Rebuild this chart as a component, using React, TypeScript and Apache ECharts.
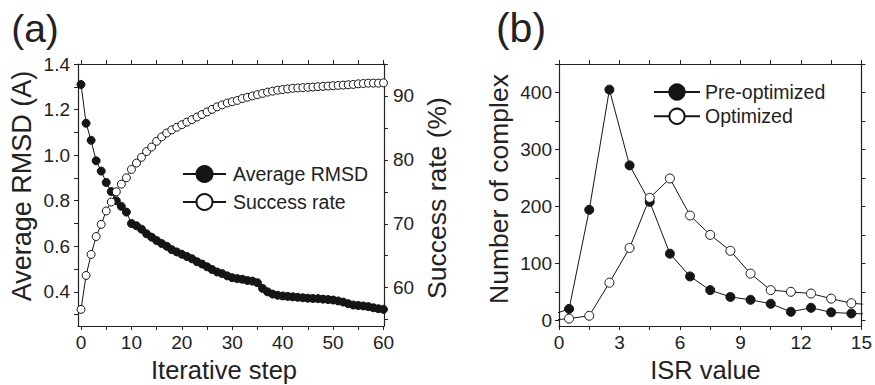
import React, { useEffect, useRef } from 'react';
import * as echarts from 'echarts';

// ---------- Panel (a) data ----------
const steps = [
  0, 1, 2, 3, 4, 5, 6, 7, 8, 9, 10, 11, 12, 13, 14, 15, 16, 17, 18, 19, 20,
  21, 22, 23, 24, 25, 26, 27, 28, 29, 30, 31, 32, 33, 34, 35, 36, 37, 38, 39, 40,
  41, 42, 43, 44, 45, 46, 47, 48, 49, 50, 51, 52, 53, 54, 55, 56, 57, 58, 59, 60,
];
const avgRmsd = [
  1.31, 1.14, 1.065, 0.975, 0.93, 0.88, 0.84, 0.80, 0.775, 0.75, 0.70,
  0.69, 0.675, 0.655, 0.64, 0.625, 0.612, 0.60, 0.585, 0.575, 0.565,
  0.555, 0.545, 0.532, 0.522, 0.51, 0.498, 0.487, 0.48, 0.47, 0.462,
  0.458, 0.455, 0.45, 0.447, 0.44, 0.415, 0.40, 0.39, 0.385, 0.382,
  0.38, 0.378, 0.376, 0.374, 0.372, 0.371, 0.37, 0.368, 0.366, 0.364,
  0.36, 0.355, 0.348, 0.342, 0.34, 0.338, 0.335, 0.33, 0.326, 0.323,
];
const successRate = [
  56.6, 61.9, 65.2, 68.0, 69.9, 72.0, 73.4, 75.0, 76.2, 77.2, 78.5,
  79.5, 80.4, 81.3, 82.0, 82.9, 83.6, 84.2, 84.7, 85.1, 85.5,
  85.9, 86.3, 86.7, 87.1, 87.5, 87.9, 88.3, 88.6, 88.9, 89.1,
  89.3, 89.6, 89.8, 90.0, 90.2, 90.4, 90.6, 90.75, 90.9, 91.0,
  91.1, 91.2, 91.25, 91.3, 91.35, 91.4, 91.45, 91.5, 91.55, 91.6,
  91.65, 91.7, 91.75, 91.8, 91.9, 91.95, 92.0, 92.0, 92.0, 92.05,
];
const stepLabels = [0, 10, 20, 30, 40, 50, 60];
const stepTicks = [0, 5, 10, 15, 20, 25, 30, 35, 40, 45, 50, 55, 60];
const rmsdLabels = [0.4, 0.6, 0.8, 1.0, 1.2, 1.4];
const rmsdTicks = [0.3, 0.4, 0.5, 0.6, 0.7, 0.8, 0.9, 1.0, 1.1, 1.2, 1.3, 1.4];
const rateLabels = [60, 70, 80, 90];
const rateTicks = [55, 60, 65, 70, 75, 80, 85, 90, 95];

// ---------- Panel (b) data ----------
const isrBins = [-0.5, 0.5, 1.5, 2.5, 3.5, 4.5, 5.5, 6.5, 7.5, 8.5, 9.5, 10.5, 11.5, 12.5, 13.5, 14.5, 15.5];
const preOptimized = [8, 20, 194, 405, 272, 208, 117, 77, 53, 41, 36, 29, 15, 22, 14, 12, 11];
const optimized = [0, 3, 8, 66, 127, 215, 249, 184, 150, 122, 82, 53, 50, 47, 38, 30, 27];
const isrLabels = [0, 3, 6, 9, 12, 15];
const isrTicks = [0, 1.5, 3, 4.5, 6, 7.5, 9, 10.5, 12, 13.5, 15];
const countLabels = [0, 100, 200, 300, 400];
const countTicks = [0, 50, 100, 150, 200, 250, 300, 350, 400, 450];

const FONT = "'Liberation Sans', Arial, Helvetica, sans-serif";
const INK = '#222';
const LINE = '#151515';

function axisBase(extra: any) {
  return {
    type: 'value',
    axisLine: { show: true, onZero: false, lineStyle: { color: INK, width: 1.2 } },
    splitLine: { show: false },
    ...extra,
  };
}

function tickStyle(values: number[]) {
  return { show: true, customValues: values, length: 4, inside: false, lineStyle: { color: INK, width: 1 } };
}

function labelStyle(values: number[], margin: number, formatter?: any) {
  const o: any = { show: true, customValues: values, fontSize: 19, color: INK, fontFamily: FONT, margin };
  if (formatter) o.formatter = formatter;
  return o;
}

export default function App() {
  const ref = useRef<HTMLDivElement>(null);

  useEffect(() => {
    if (!ref.current) return;
    const chart = echarts.init(ref.current, undefined, { renderer: 'svg' });

    const inRange = (x: number) => x >= 0 && x <= 15;

    const option: any = {
      animation: false,
      backgroundColor: '#fff',
      grid: [
        { left: 78, top: 64, width: 306, height: 262, containLabel: false },
        { left: 559, top: 64, width: 305, height: 262, containLabel: false },
      ],
      xAxis: [
        axisBase({
          gridIndex: 0, position: 'bottom', min: -0.6, max: 60.1,
          axisTick: tickStyle(stepTicks), axisLabel: labelStyle(stepLabels, 7),
        }),
        axisBase({
          gridIndex: 0, position: 'top', min: -0.6, max: 60.1,
          axisTick: tickStyle(stepTicks), axisLabel: { show: false },
        }),
        axisBase({
          gridIndex: 1, position: 'bottom', min: 0, max: 15,
          axisTick: tickStyle(isrTicks), axisLabel: labelStyle(isrLabels, 7),
        }),
        axisBase({
          gridIndex: 1, position: 'top', min: 0, max: 15,
          axisTick: tickStyle(isrTicks), axisLabel: { show: false },
        }),
      ],
      yAxis: [
        axisBase({
          gridIndex: 0, position: 'left', min: 0.25, max: 1.4,
          axisTick: tickStyle(rmsdTicks),
          axisLabel: labelStyle(rmsdLabels, 8, (v: number) => v.toFixed(1)),
        }),
        axisBase({
          gridIndex: 0, position: 'right', min: 54, max: 95,
          axisTick: tickStyle(rateTicks), axisLabel: labelStyle(rateLabels, 9),
        }),
        axisBase({
          gridIndex: 1, position: 'left', min: -10, max: 450,
          axisTick: tickStyle(countTicks), axisLabel: labelStyle(countLabels, 7),
        }),
        axisBase({
          gridIndex: 1, position: 'right', min: -10, max: 450,
          axisTick: tickStyle(countTicks), axisLabel: { show: false },
        }),
      ],
      legend: [
        {
          data: ['Average RMSD', 'Success rate'],
          orient: 'vertical', left: 182, top: 164, padding: 0,
          itemWidth: 43, itemHeight: 20, itemGap: 8, selectedMode: false,
          textStyle: { fontSize: 19.5, color: INK, fontFamily: FONT, padding: [0, 0, 0, 2] },
        },
        {
          data: ['Pre-optimized', 'Optimized'],
          orient: 'vertical', left: 653, top: 82, padding: 0,
          itemWidth: 46, itemHeight: 19, itemGap: 4.3, selectedMode: false,
          textStyle: { fontSize: 19.5, color: INK, fontFamily: FONT },
        },
      ],
      series: [
        {
          name: 'Average RMSD', type: 'line', xAxisIndex: 0, yAxisIndex: 0,
          data: steps.map((s, i) => [s, avgRmsd[i]]),
          symbol: 'circle', symbolSize: 8,
          lineStyle: { color: LINE, width: 1 },
          itemStyle: { color: LINE, borderColor: LINE, borderWidth: 1 },
          emphasis: { disabled: true },
        },
        {
          name: 'Success rate', type: 'line', xAxisIndex: 0, yAxisIndex: 1,
          data: steps.map((s, i) => [s, successRate[i]]),
          symbol: 'circle', symbolSize: 8,
          lineStyle: { color: LINE, width: 1 },
          itemStyle: { color: '#fff', borderColor: LINE, borderWidth: 1 },
          emphasis: { disabled: true },
        },
        {
          name: 'Pre-optimized', type: 'line', xAxisIndex: 2, yAxisIndex: 2, clip: true,
          data: isrBins.map((x, i) => ({ value: [x, preOptimized[i]], symbol: inRange(x) ? 'circle' : 'none' })),
          symbol: 'circle', symbolSize: 9,
          lineStyle: { color: LINE, width: 1 },
          itemStyle: { color: LINE, borderColor: LINE, borderWidth: 1 },
          emphasis: { disabled: true },
        },
        {
          name: 'Optimized', type: 'line', xAxisIndex: 2, yAxisIndex: 2, clip: true,
          data: isrBins.map((x, i) => ({ value: [x, optimized[i]], symbol: inRange(x) ? 'circle' : 'none' })),
          symbol: 'circle', symbolSize: 9,
          lineStyle: { color: LINE, width: 1 },
          itemStyle: { color: '#fff', borderColor: LINE, borderWidth: 1 },
          emphasis: { disabled: true },
        },
      ],
      graphic: [
        { type: 'text', x: 35, y: 28, style: { text: '(a)', fontSize: 39, fontFamily: FONT, fill: INK, textAlign: 'center', textVerticalAlign: 'middle' } },
        { type: 'text', x: 521, y: 28, style: { text: '(b)', fontSize: 41, fontFamily: FONT, fill: INK, textAlign: 'center', textVerticalAlign: 'middle' } },
        { type: 'text', x: 224, y: 370, style: { text: 'Iterative step', fontSize: 25.5, fontFamily: FONT, fill: INK, textAlign: 'center', textVerticalAlign: 'middle' } },
        { type: 'text', x: 705.5, y: 370, style: { text: 'ISR value', fontSize: 25.5, fontFamily: FONT, fill: INK, textAlign: 'center', textVerticalAlign: 'middle' } },
        { type: 'text', x: 21.7, y: 186, rotation: Math.PI / 2, style: { text: 'Average RMSD (A)', fontSize: 27, fontFamily: FONT, fill: INK, textAlign: 'center', textVerticalAlign: 'middle' } },
        { type: 'text', x: 437, y: 198, rotation: Math.PI / 2, style: { text: 'Success rate (%)', fontSize: 26.5, fontFamily: FONT, fill: INK, textAlign: 'center', textVerticalAlign: 'middle' } },
        { type: 'text', x: 499, y: 189, rotation: Math.PI / 2, style: { text: 'Number of complex', fontSize: 26.5, fontFamily: FONT, fill: INK, textAlign: 'center', textVerticalAlign: 'middle' } },
      ],
    };

    chart.setOption(option);
    return () => chart.dispose();
  }, []);

  return (
    <div
      ref={ref}
      style={{ position: 'fixed', left: 0, top: 0, width: 875, height: 385, background: '#fff' }}
    />
  );
}
